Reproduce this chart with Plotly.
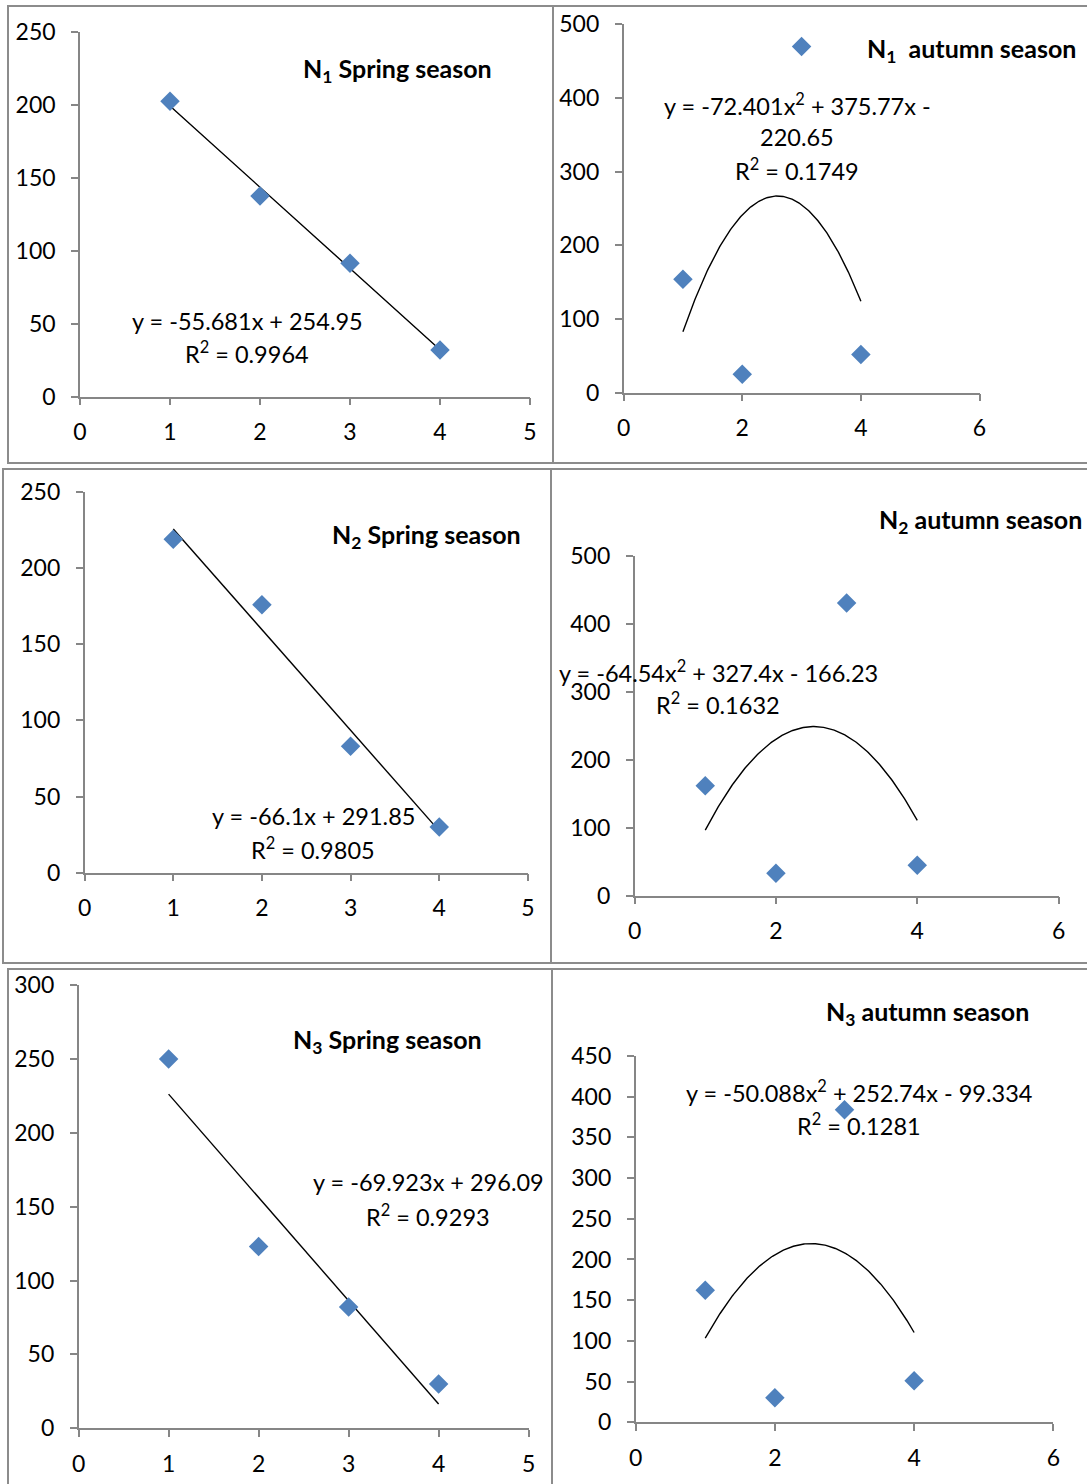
import numpy as np
import plotly.graph_objects as go

# ---------------- data ----------------
x_vals = [1, 2, 3, 4]

n1_spring = [202.5, 137.5, 91.5, 32]
n1_autumn = [154, 25, 470, 52]
n2_spring = [219, 176, 83, 30]
n2_autumn = [162, 33, 431, 45]
n3_spring = [250, 123, 82, 30]
n3_autumn = [162, 30, 384, 51]

# trendline coefficients as printed on the chart (highest power first)
n1_spring_fit = [-55.681, 254.95]
n1_autumn_fit = [-72.401, 375.77, -220.65]
n2_spring_fit = [-66.1, 291.85]
n2_autumn_fit = [-64.54, 327.4, -166.23]
n3_spring_fit = [-69.923, 296.09]
n3_autumn_fit = [-50.088, 252.74, -99.334]

titles = [
    "N<sub>1</sub> Spring season",
    "N<sub>1</sub>  autumn season",
    "N<sub>2</sub> Spring season",
    "N<sub>2</sub> autumn season",
    "N<sub>3</sub> Spring season",
    "N<sub>3</sub> autumn season",
]
equation_lines = [
    ["y = -55.681x + 254.95", "R<sup>2</sup> = 0.9964"],
    ["y = -72.401x<sup>2</sup> + 375.77x -", "220.65", "R<sup>2</sup> = 0.1749"],
    ["y = -66.1x + 291.85", "R<sup>2</sup> = 0.9805"],
    ["y = -64.54x<sup>2</sup> + 327.4x - 166.23", "R<sup>2</sup> = 0.1632"],
    ["y = -69.923x + 296.09", "R<sup>2</sup> = 0.9293"],
    ["y = -50.088x<sup>2</sup> + 252.74x - 99.334", "R<sup>2</sup> = 0.1281"],
]
x_ranges = [[0, 5], [0, 6], [0, 5], [0, 6], [0, 5], [0, 6]]
x_dticks = [1, 2, 1, 2, 1, 2]
y_ranges = [[0, 250], [0, 500], [0, 250], [0, 500], [0, 300], [0, 450]]
y_dticks = [50, 100, 50, 100, 50, 50]

series = [n1_spring, n1_autumn, n2_spring, n2_autumn, n3_spring, n3_autumn]
fits = [n1_spring_fit, n1_autumn_fit, n2_spring_fit, n2_autumn_fit, n3_spring_fit, n3_autumn_fit]

# ---------------- layout (pixels) ----------------
W, H = 1087, 1484
def px(x):
    return x / W
def py(y):
    return 1 - y / H

# plot areas: (x_left, x_right, y_top, y_bottom) in pixels
areas = [
    (80, 530, 32, 396.7),
    (623.6, 979.5, 24.3, 392.7),
    (84.6, 527.9, 492, 872.7),
    (634.6, 1058.6, 556, 895.7),
    (78.6, 528.6, 985.1, 1428.2),
    (635.6, 1053.4, 1056, 1422.2),
]
# panel borders
borders = [
    (8, 6, 553, 463),
    (553, 6, 1092, 463),
    (3, 469, 551, 963),
    (551, 469, 1092, 963),
    (8, 969, 552, 1492),
    (552, 969, 1092, 1492),
]
# annotation centres
title_pos = [(397, 70), (971, 50), (426, 536), (980, 521), (387, 1041), (927, 1013)]
eq_pos = [
    [(247, 321), (247, 353)],
    [(797, 104), (797, 137), (797, 169)],
    [(313, 816), (313, 848)],
    [(718, 671), (718, 703)],
    [(428, 1182), (428, 1215)],
    [(859, 1091), (859, 1124)],
]

FONT = "Lato, 'Open Sans', sans-serif"
AXIS_COLOR = "#868686"
MARKER_COLOR = "#4F81BD"
TICK_SIZE = 23
EQ_SIZE = 23.5
TITLE_SIZE = 25

fig = go.Figure()
layout = dict(
    width=W, height=H, autosize=False,
    margin=dict(l=0, r=0, t=0, b=0, pad=0),
    paper_bgcolor="white", plot_bgcolor="white",
    showlegend=False,
    font=dict(family=FONT, size=22, color="black"),
)

shapes = []
annotations = []
for i in range(6):
    k = "" if i == 0 else str(i + 1)
    xl, xr, yt, yb = areas[i]
    common = dict(
        showgrid=False, zeroline=False, automargin=False,
        showline=True, linecolor=AXIS_COLOR, linewidth=1.5,
        ticks="outside", ticklen=7, tickwidth=1.5, tickcolor=AXIS_COLOR,
        tickfont=dict(family=FONT, size=TICK_SIZE, color="black"),
        fixedrange=True, tick0=0,
    )
    layout["xaxis" + k] = dict(
        domain=[px(xl), px(xr)], range=x_ranges[i], dtick=x_dticks[i],
        anchor="y" + k, ticklabelstandoff=7, **common,
    )
    layout["yaxis" + k] = dict(
        domain=[py(yb), py(yt)], range=y_ranges[i], dtick=y_dticks[i],
        anchor="x" + k, ticklabelstandoff=11, **common,
    )

    xs = np.linspace(min(x_vals), max(x_vals), 200)
    fig.add_trace(go.Scatter(
        x=xs, y=np.polyval(fits[i], xs), mode="lines",
        line=dict(color="black", width=1.4),
        xaxis="x" + k, yaxis="y" + k, hoverinfo="skip", cliponaxis=False,
    ))
    fig.add_trace(go.Scatter(
        x=x_vals, y=series[i], mode="markers",
        marker=dict(symbol="diamond", size=15, color=MARKER_COLOR, line=dict(width=0)),
        xaxis="x" + k, yaxis="y" + k, cliponaxis=False,
    ))

    bx0, by0, bx1, by1 = borders[i]
    shapes.append(dict(type="rect", xref="paper", yref="paper",
                       x0=px(bx0), x1=px(bx1), y0=py(by1), y1=py(by0),
                       line=dict(color="#8C8C8C", width=2), fillcolor="rgba(0,0,0,0)",
                       layer="above"))

    tx, ty = title_pos[i]
    annotations.append(dict(xref="paper", yref="paper", x=px(tx), y=py(ty),
                            xanchor="center", yanchor="middle", showarrow=False,
                            text="<b>" + titles[i] + "</b>",
                            font=dict(family=FONT, size=TITLE_SIZE, color="black")))
    for line_text, (ex, ey) in zip(equation_lines[i], eq_pos[i]):
        annotations.append(dict(xref="paper", yref="paper", x=px(ex), y=py(ey),
                                xanchor="center", yanchor="middle", showarrow=False,
                                text=line_text,
                                font=dict(family=FONT, size=EQ_SIZE, color="black")))

layout["shapes"] = shapes
layout["annotations"] = annotations
fig.update_layout(**layout)
fig.write_html(
    "out.html",
    post_script="document.body.style.margin='0';document.body.style.padding='0';"
                "document.documentElement.style.overflow='hidden';",
)
